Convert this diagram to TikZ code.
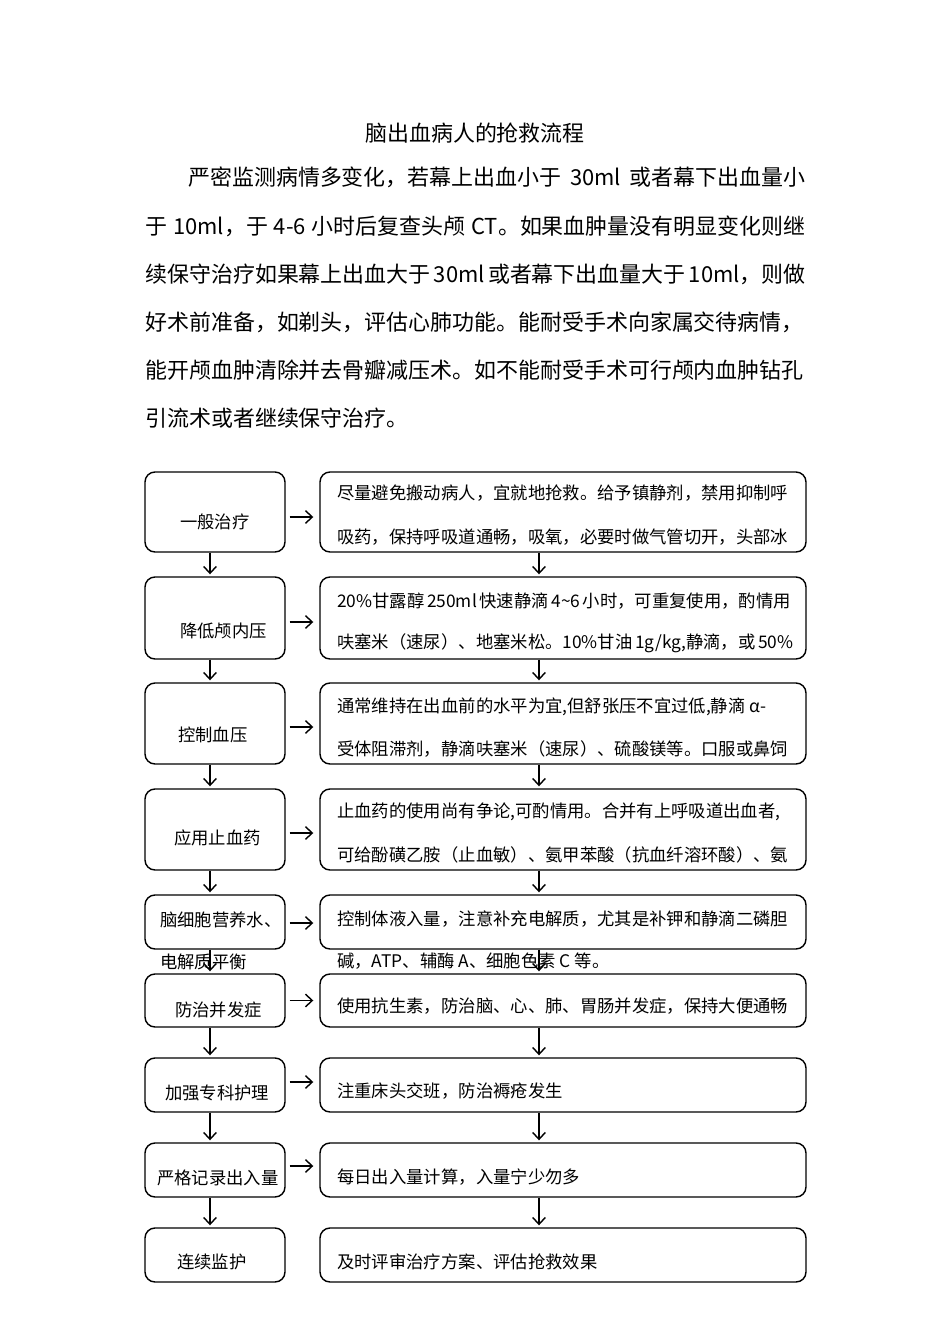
\documentclass[tikz,border=0pt]{standalone}
\usepackage{fontspec}
\setmainfont{Noto Sans CJK SC}
\usetikzlibrary{arrows.meta}
\XeTeXlinebreaklocale "zh"
\XeTeXlinebreakskip=0pt plus 2pt
\newlength{\pxu}
\setlength{\pxu}{0.221mm}
\newcommand{\fillline}[2]{\makebox[#1\pxu][s]{#2}}
\tikzset{
  lbox/.style={draw, rounded corners=10\pxu, line width=0.9pt, minimum width=140\pxu, inner sep=0pt},
  rbox/.style={draw, rounded corners=10\pxu, line width=0.9pt, minimum width=486\pxu, inner sep=0pt},
  txt/.style={anchor=west, inner sep=0pt, font=\fontsize{10.9pt}{13pt}\selectfont},
  para/.style={anchor=west, inner sep=0pt, font=\fontsize{13.8pt}{16pt}\selectfont},
  arr/.style={line width=0.9pt, -{Straight Barb[length=1.5mm,width=2.8mm]}}
}
\begin{document}
\begin{tikzpicture}[x=0.221mm, y=-0.221mm]
      \useasboundingbox (0,0) rectangle (950,1344);
      %
      \node[para, anchor=center] (title) at (475,133) {脑出血病人的抢救流程};
      \node[para] (p1) at (188,177) {\fillline{617}{严密监测病情多变化，若幕上出血小于 30ml 或者幕下出血量小}};
      \node[para] (p2) at (145,226) {\fillline{660}{于 10ml，于 4-6 小时后复查头颅 CT。如果血肿量没有明显变化则继}};
      \node[para] (p3) at (145,274) {\fillline{660}{续保守治疗如果幕上出血大于 30ml 或者幕下出血量大于 10ml，则做}};
      \node[para] (p4) at (145,322) {\fillline{660}{好术前准备，如剃头，评估心肺功能。能耐受手术向家属交待病情，}};
      \node[para] (p5) at (145,370) {\fillline{660}{能开颅血肿清除并去骨瓣减压术。如不能耐受手术可行颅内血肿钻孔}};
      \node[para] (p6) at (145,418) {引流术或者继续保守治疗。};
      %
      \node[lbox, minimum height=80\pxu] (l1) at (215,512) {};
      \node[lbox, minimum height=82\pxu] (l2) at (215,618) {};
      \node[lbox, minimum height=81\pxu] (l3) at (215,723.5) {};
      \node[lbox, minimum height=81\pxu] (l4) at (215,829.5) {};
      \node[lbox, minimum height=54\pxu] (l5) at (215,922) {};
      \node[lbox, minimum height=53\pxu] (l6) at (215,1000.5) {};
      \node[lbox, minimum height=54\pxu] (l7) at (215,1085) {};
      \node[lbox, minimum height=54\pxu] (l8) at (215,1170) {};
      \node[lbox, minimum height=54\pxu] (l9) at (215,1255) {};
      %
      \node[rbox, minimum height=80\pxu] (r1) at (563,512) {};
      \node[rbox, minimum height=82\pxu] (r2) at (563,618) {};
      \node[rbox, minimum height=81\pxu] (r3) at (563,723.5) {};
      \node[rbox, minimum height=81\pxu] (r4) at (563,829.5) {};
      \node[rbox, minimum height=54\pxu] (r5) at (563,922) {};
      \node[rbox, minimum height=53\pxu] (r6) at (563,1000.5) {};
      \node[rbox, minimum height=54\pxu] (r7) at (563,1085) {};
      \node[rbox, minimum height=54\pxu] (r8) at (563,1170) {};
      \node[rbox, minimum height=54\pxu] (r9) at (563,1255) {};
      %
      \node[txt] (a1) at (180,522) {一般治疗};
      \node[txt] (a2) at (180,631) {降低颅内压};
      \node[txt] (a3) at (178,735) {控制血压};
      \node[txt] (a4) at (174,838) {应用止血药};
      \node[txt] (a5) at (160,920) {脑细胞营养水、};
      \node[txt] (a5b) at (160,962) {电解质平衡};
      \node[txt] (a6) at (175,1010) {防治并发症};
      \node[txt] (a7) at (165,1093) {加强专科护理};
      \node[txt] (a8) at (157,1178) {严格记录出入量};
      \node[txt] (a9) at (177,1262) {连续监护};
      %
      \node[txt] (b1) at (337,493) {\fillline{453}{尽量避免搬动病人，宜就地抢救。给予镇静剂，禁用抑制呼}};
      \node[txt] (b1b) at (337,537) {\fillline{453}{吸药，保持呼吸道通畅，吸氧，必要时做气管切开，头部冰}};
      \node[txt] (b2) at (337,601) {\fillline{453}{20\%甘露醇 250ml 快速静滴 4\textasciitilde6 小时，可重复使用，酌情用}};
      \node[txt] (b2b) at (337,643) {\fillline{453}{呋塞米（速尿）、地塞米松。10\%甘油 1g/kg,静滴，或 50\%}};
      \node[txt] (b3) at (337,707) {通常维持在出血前的水平为宜,但舒张压不宜过低,静滴 α-};
      \node[txt] (b3b) at (337,749) {\fillline{453}{受体阻滞剂，静滴呋塞米（速尿）、硫酸镁等。口服或鼻饲}};
      \node[txt] (b4) at (337,812) {\fillline{453}{止血药的使用尚有争论,可酌情用。合并有上呼吸道出血者,}};
      \node[txt] (b4b) at (337,855) {\fillline{453}{可给酚磺乙胺（止血敏）、氨甲苯酸（抗血纤溶环酸）、氨}};
      \node[txt] (b5) at (337,919) {\fillline{453}{控制体液入量，注意补充电解质，尤其是补钾和静滴二磷胆}};
      \node[txt] (b5b) at (337,961) {碱，ATP、辅酶 A、细胞色素 C 等。};
      \node[txt] (b6) at (337,1006) {\fillline{453}{使用抗生素，防治脑、心、肺、胃肠并发症，保持大便通畅}};
      \node[txt] (b7) at (337,1091) {注重床头交班，防治褥疮发生};
      \node[txt] (b8) at (337,1177) {每日出入量计算，入量宁少勿多};
      \node[txt] (b9) at (337,1262) {及时评审治疗方案、评估抢救效果};
      %
      \draw[arr] ([shift={(4,5)}]l1.east) -- ([shift={(-6,5)}]r1.west);
      \draw[arr] ([shift={(4,4)}]l2.east) -- ([shift={(-6,4)}]r2.west);
      \draw[arr] ([shift={(4,3.5)}]l3.east) -- ([shift={(-6,3.5)}]r3.west);
      \draw[arr] ([shift={(4,3.5)}]l4.east) -- ([shift={(-6,3.5)}]r4.west);
      \draw[arr] ([shift={(4,1)}]l5.east) -- ([shift={(-6,1)}]r5.west);
      \draw[arr] ([shift={(4,0)}]l6.east) -- ([shift={(-6,0)}]r6.west);
      \draw[arr] ([shift={(4,-3)}]l7.east) -- ([shift={(-6,-3)}]r7.west);
      \draw[arr] ([shift={(4,-4)}]l8.east) -- ([shift={(-6,-4)}]r8.west);
      %
      \draw[arr] ([xshift=-5\pxu]l1.south) -- ([shift={(-5,-2)}]l2.north);
      \draw[arr] ([xshift=-5\pxu]l2.south) -- ([shift={(-5,-2)}]l3.north);
      \draw[arr] ([xshift=-5\pxu]l3.south) -- ([shift={(-5,-2)}]l4.north);
      \draw[arr] ([xshift=-5\pxu]l4.south) -- ([shift={(-5,-2)}]l5.north);
      \draw[arr] ([xshift=-5\pxu]l5.south) -- ([shift={(-5,-2)}]l6.north);
      \draw[arr] ([xshift=-5\pxu]l6.south) -- ([shift={(-5,-2)}]l7.north);
      \draw[arr] ([xshift=-5\pxu]l7.south) -- ([shift={(-5,-2)}]l8.north);
      \draw[arr] ([xshift=-5\pxu]l8.south) -- ([shift={(-5,-2)}]l9.north);
      %
      \draw[arr] ([xshift=-24\pxu]r1.south) -- ([shift={(-24,-2)}]r2.north);
      \draw[arr] ([xshift=-24\pxu]r2.south) -- ([shift={(-24,-2)}]r3.north);
      \draw[arr] ([xshift=-24\pxu]r3.south) -- ([shift={(-24,-2)}]r4.north);
      \draw[arr] ([xshift=-24\pxu]r4.south) -- ([shift={(-24,-2)}]r5.north);
      \draw[arr] ([xshift=-24\pxu]r5.south) -- ([shift={(-24,-2)}]r6.north);
      \draw[arr] ([xshift=-24\pxu]r6.south) -- ([shift={(-24,-2)}]r7.north);
      \draw[arr] ([xshift=-24\pxu]r7.south) -- ([shift={(-24,-2)}]r8.north);
      \draw[arr] ([xshift=-24\pxu]r8.south) -- ([shift={(-24,-2)}]r9.north);
      %
    \end{tikzpicture}
\end{document}
